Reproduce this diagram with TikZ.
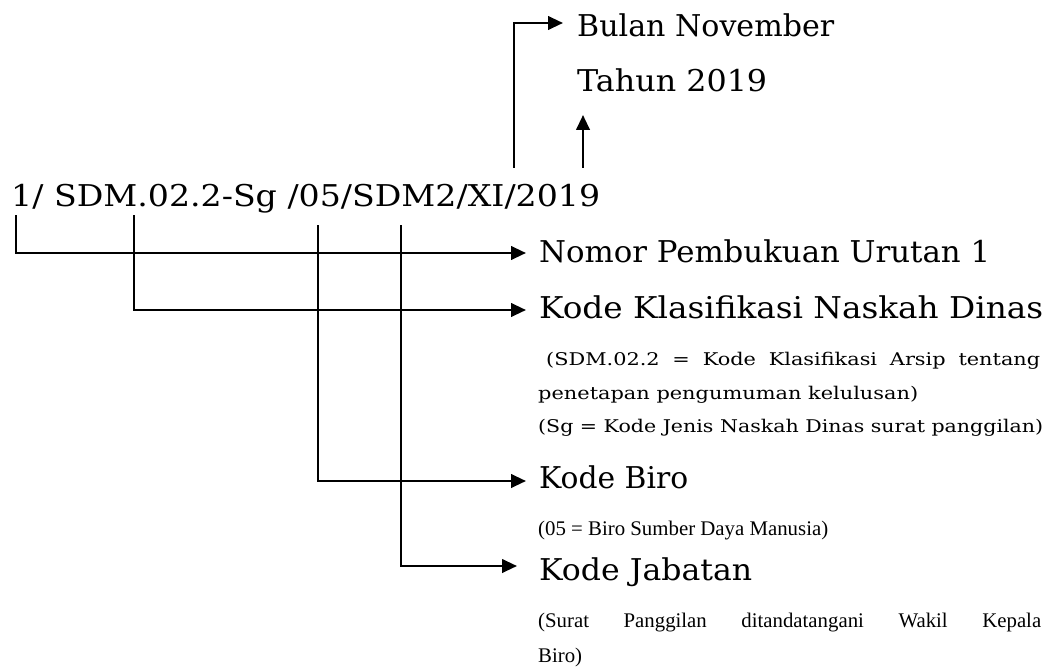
\documentclass[tikz,border=0pt]{standalone}
\usepackage{fontspec}
\usepackage{graphicx}
\setmainfont{DejaVu Serif}
\newfontfamily\condfont{Liberation Serif}
\usetikzlibrary{arrows.meta}
\newcommand{\fitx}[2]{\resizebox{#1pt}{\height}{#2}}
\tikzset{
  conn/.style={line width=2.5pt},
  arr/.style={conn,-{Triangle[length=15pt,width=13.5pt]}},
  big/.style={anchor=base west,inner sep=0pt,font=\fontsize{30}{30}\selectfont},
  small/.style={anchor=base west,inner sep=0pt,font=\fontsize{17.5}{17.5}\selectfont},
  cond/.style={anchor=base west,inner sep=0pt,font=\condfont\fontsize{20.8}{20.8}\selectfont},
}
\begin{document}
\begin{tikzpicture}[x=1pt,y=-1pt]
\useasboundingbox (0,0) rectangle (1051,671);
% main code
\node[big] (code) at (11,206) {\fitx{589}{1/ SDM.02.2-Sg /05/SDM2/XI/2019}};
% top labels
\node[big] (bulan) at (577,37) {\fitx{257}{Bulan November}};
\node[big] (tahun) at (577,92) {\fitx{190}{Tahun 2019}};
% right labels
\node[big] (nomor) at (539,262) {\fitx{451}{Nomor Pembukuan Urutan 1}};
\node[big] (klas) at (539,318) {\fitx{504}{Kode Klasifikasi Naskah Dinas}};
\node[small] (s1) at (546,365) {\fitx{494}{\makebox[415pt][s]{(SDM.02.2 = Kode Klasifikasi Arsip tentang}}};
\node[small] (s2) at (538,399) {\fitx{380}{penetapan pengumuman kelulusan)}};
\node[small] (s3) at (538,432) {\fitx{505}{(Sg = Kode Jenis Naskah Dinas surat panggilan)}};
\node[big] (biro) at (539,488) {\fitx{149}{Kode Biro}};
\node[cond] (s4) at (538,535) {\fitx{290}{(05 = Biro Sumber Daya Manusia)}};
\node[big] (jab) at (539,580) {\fitx{213}{Kode Jabatan}};
\node[cond] (s5) at (538,627) {\makebox[503pt][s]{(Surat Panggilan ditandatangani Wakil Kepala}};
\node[cond] (s6) at (538,662) {Biro)};
% tick start points
\coordinate (t1) at (16,215);
\coordinate (t2) at (134,215);
\coordinate (t3) at (318,225);
\coordinate (t4) at (401,225);
\coordinate (txi) at (514,168);
\coordinate (tyr) at (583,168);
\coordinate (tyrend) at (583,115);
% connectors
\draw[arr] (t1) |- ([shift={(-13pt,9pt)}]nomor.base west);
\draw[arr] (t2) |- ([shift={(-13pt,8pt)}]klas.base west);
\draw[arr] (t3) |- ([shift={(-13pt,7pt)}]biro.base west);
\draw[arr] (t4) |- ([shift={(-22pt,14pt)}]jab.base west);
\draw[arr] (txi) |- ([shift={(-14pt,14pt)}]bulan.base west);
\draw[arr] (tyr) -- (tyrend);
\end{tikzpicture}
\end{document}
